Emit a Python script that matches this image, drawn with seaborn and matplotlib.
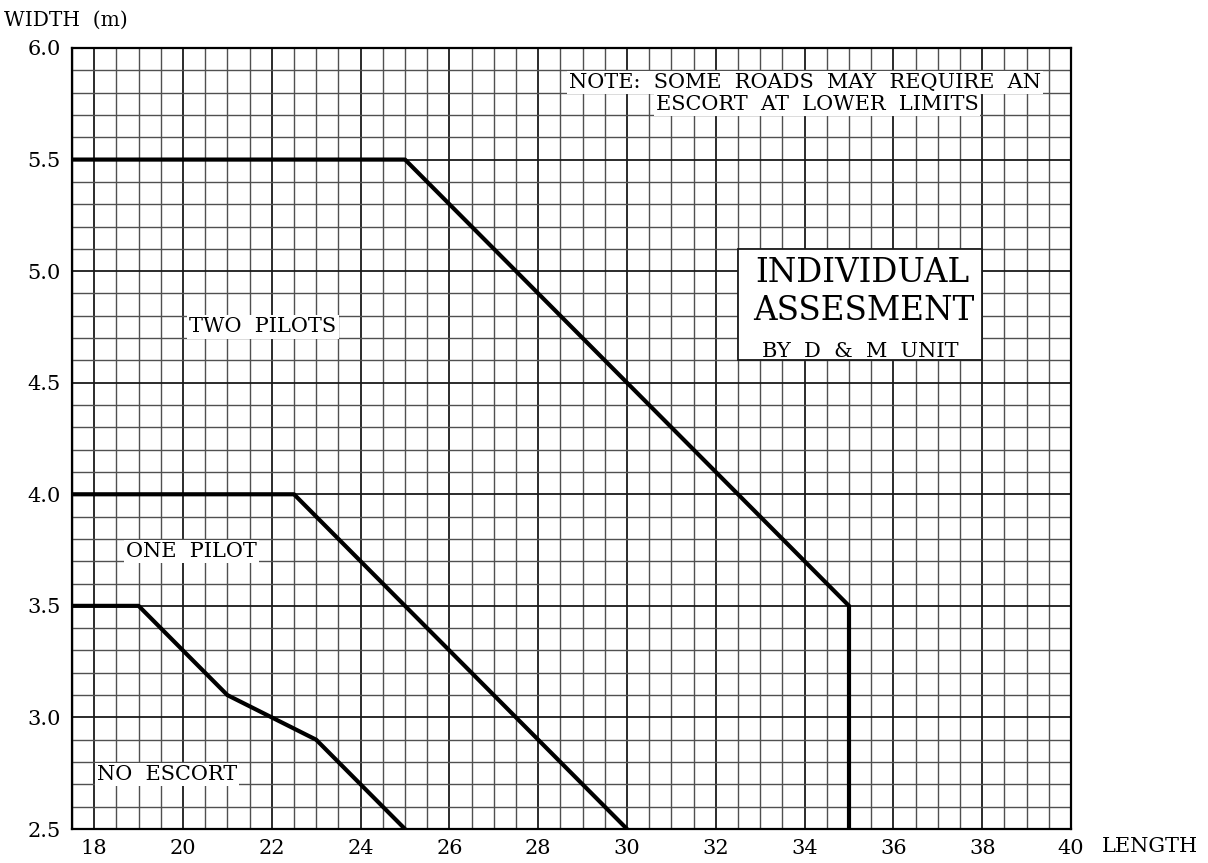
import matplotlib
matplotlib.use("Agg")
import matplotlib.pyplot as plt
import seaborn as sns
import pandas as pd
from matplotlib.patches import Rectangle
from matplotlib.ticker import MultipleLocator

# escort limit curves: vehicle length (m) vs width (m)
two_pilots_len = [17.5, 25.0, 35.0, 35.0]
two_pilots_wid = [5.5, 5.5, 3.5, 2.5]
one_pilot_len = [17.5, 22.5, 30.0]
one_pilot_wid = [4.0, 4.0, 2.5]
no_escort_len = [17.5, 19.0, 21.0, 22.0, 23.0, 25.0]
no_escort_wid = [3.5, 3.5, 3.1, 3.0, 2.9, 2.5]

x_ticks = [18, 20, 22, 24, 26, 28, 30, 32, 34, 36, 38, 40]
y_ticks = [2.5, 3.0, 3.5, 4.0, 4.5, 5.0, 5.5, 6.0]

sns.set_style("white")
plt.rcParams["font.family"] = ["DejaVu Serif"]
plt.rcParams["text.color"] = "black"
plt.rcParams["xtick.color"] = "black"
plt.rcParams["ytick.color"] = "black"

df = pd.concat([
    pd.DataFrame({"length": two_pilots_len, "width": two_pilots_wid, "zone": "two"}),
    pd.DataFrame({"length": one_pilot_len, "width": one_pilot_wid, "zone": "one"}),
    pd.DataFrame({"length": no_escort_len, "width": no_escort_wid, "zone": "none"}),
])

fig = plt.figure(figsize=(12.08, 8.63), dpi=100)
ax = fig.add_axes([72 / 1208, 34 / 863, 999 / 1208, 781 / 863])

sns.lineplot(data=df, x="length", y="width", units="zone", estimator=None,
             sort=False, color="black", lw=3.0, ax=ax, zorder=3)

ax.set_xlim(17.5, 40)
ax.set_ylim(2.5, 6.0)
ax.set_xticks(x_ticks)
ax.set_yticks(y_ticks)
ax.set_yticklabels([f"{v:.1f}" for v in y_ticks])
ax.xaxis.set_minor_locator(MultipleLocator(0.5))
ax.yaxis.set_minor_locator(MultipleLocator(0.1))
ax.grid(which="major", color="#1a1a1a", lw=1.3)
ax.grid(which="minor", color="#505050", lw=1.0)
ax.set_axisbelow(True)
ax.tick_params(which="both", length=0, labelsize=15)
ax.tick_params(axis="x", pad=7)
ax.tick_params(axis="y", pad=8)
for s in ax.spines.values():
    s.set_color("black")
    s.set_linewidth(1.6)
ax.set_xlabel("")
ax.set_ylabel("")

box = dict(fc="white", ec="none", pad=1.5)
ax.text(21.8, 4.75, "TWO  PILOTS", ha="center", va="center", fontsize=15, bbox=box)
ax.text(20.2, 3.745, "ONE  PILOT", ha="center", va="center", fontsize=15, bbox=box)
ax.text(19.64, 2.745, "NO  ESCORT", ha="center", va="center", fontsize=15, bbox=box)
ax.text(34.0, 5.847, "NOTE:  SOME  ROADS  MAY  REQUIRE  AN", ha="center", va="center",
        fontsize=15, bbox=box)
ax.text(34.28, 5.745, "ESCORT  AT  LOWER  LIMITS", ha="center", va="center",
        fontsize=15, bbox=box)

ax.add_patch(Rectangle((32.5, 4.6), 5.5, 0.5, fc="white", ec="#1a1a1a", lw=1.3, zorder=2.5))
ax.text(35.3, 4.99, "INDIVIDUAL", ha="center", va="center", fontsize=23.5, zorder=4)
ax.text(35.33, 4.82, "ASSESMENT", ha="center", va="center", fontsize=23.5, zorder=4)
ax.text(35.25, 4.64, "BY  D  &  M  UNIT", ha="center", va="center", fontsize=15, zorder=4)

fig.text(0.003, 0.977, "WIDTH  (m)", ha="left", va="center", fontsize=14.5)
fig.text(1102 / 1208, 1 - 846 / 863, "LENGTH", ha="left", va="center", fontsize=15)

fig.savefig("out.png", dpi=100)
